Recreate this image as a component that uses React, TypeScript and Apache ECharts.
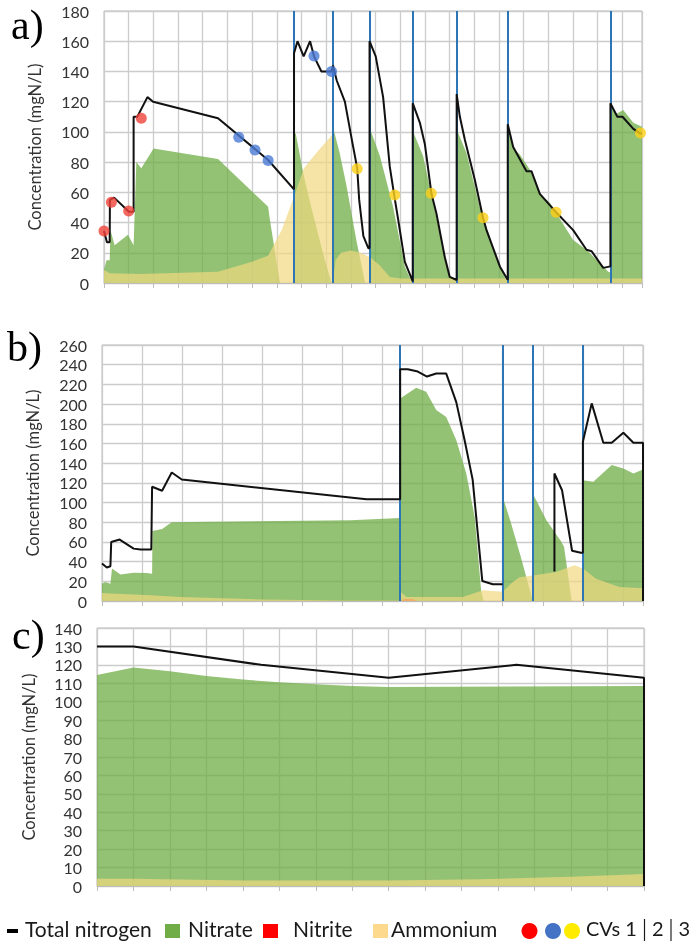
import React, { useEffect, useRef } from "react";
import * as echarts from "echarts";

// ---------- Panel a ----------
const aBlueLines = [77, 92.6, 107.6, 125.1, 142.9, 163.6, 205.2];
const aTotal = [
  [0, 34.4], [1.2, 27], [2.3, 27], [2.4, 55], [4.1, 56.5], [10.1, 47.2], [12, 47.2], [12, 110], [13.5, 110],
  [17.6, 123], [19.9, 120], [46.2, 109], [66.5, 81.4], [77, 62],
  [77, 152], [78.4, 160], [80.9, 150], [83.5, 160], [85.1, 150], [88.1, 140], [92.2, 140], [92.8, 144],
  [94.3, 134], [97.6, 120], [100.4, 95], [102.6, 76], [103.4, 55], [105.1, 31], [107.1, 23], [107.6, 23],
  [107.6, 160], [110.1, 150], [113.1, 123], [115.8, 77], [117.6, 58], [119.2, 42], [121.9, 14], [125.1, 1],
  [125.1, 119], [128, 106], [130, 92], [132.7, 59], [134.7, 46], [138.1, 17], [140.1, 4], [142.9, 2],
  [142.9, 125], [144.2, 110], [146.2, 95], [150.3, 68], [153.6, 43], [155, 35], [160.4, 11], [163.6, 2],
  [163.6, 105], [165.8, 90], [171.2, 74], [173.2, 74], [176.6, 59], [182, 49], [183.1, 47], [190.1, 35],
  [195.5, 22], [197.6, 21], [202.3, 10], [205.2, 11],
  [205.2, 119], [208, 110], [210.1, 110], [214.5, 102], [217.2, 99], [218, 99],
];
const aNitrate = [
  [0, 8.6], [1, 15], [2.3, 15], [2.6, 35], [4.3, 25], [9.7, 32], [12, 25], [13.1, 80], [15.1, 76], [20.1, 89],
  [46.2, 82], [66.5, 50.5], [67.2, 42], [71.3, 0], [77, 0],
  [77, 99], [77.7, 99], [80.7, 73], [84, 50], [89.5, 15], [92.2, 0], [92.6, 0],
  [92.8, 103], [95.5, 86], [98.3, 64], [102.3, 28], [105.8, 0], [107.6, 0],
  [107.8, 102], [111.8, 84], [117.2, 50], [121.9, 11], [124.6, 1], [125.1, 0],
  [125.3, 100], [129.3, 84], [136.1, 33], [140.1, 4], [142.6, 2], [142.9, 0],
  [143.1, 101], [146.9, 86], [152.3, 50], [159.1, 17], [163.1, 1], [163.6, 0],
  [163.8, 103], [165.8, 89], [168.5, 85], [172.6, 75], [176.6, 59], [180.7, 53], [190.1, 28.5], [195.5, 22],
  [202.3, 11], [204.3, 7.5], [205.2, 7],
  [205.3, 118], [207.7, 112], [210.4, 114.5], [214.5, 106], [217.8, 103.5], [218, 103],
];
const aAmmonium = [
  [0, 8.6], [2.3, 6.4], [14.5, 6], [46.2, 7.5], [60, 14], [66.5, 18], [72, 35], [77, 57], [81, 76], [86, 86],
  [92.4, 98], [92.8, 1], [93.8, 15], [96, 20], [100, 21.5], [104, 20], [107.8, 17], [111.5, 12], [115.8, 4],
  [120, 3], [218, 3],
];
const aCV1 = [[0, 34.4], [3, 53.5], [10, 47.6], [15.1, 109]];
const aCV2 = [[54.6, 96.4], [61.2, 88], [66.5, 81], [85.1, 150.2], [92.2, 139.9]];
const aCV3 = [[102.6, 75.6], [117.8, 58.2], [132.6, 59.4], [153.6, 43.2], [183.2, 46.8], [217.4, 99.2]];

// ---------- Panel b ----------
const bBlueLines = [74.4, 100, 107.6, 120];
const bTotal1 = [
  [0, 38], [1.2, 34], [2.1, 35.3], [2.3, 60], [4.4, 62.4], [7.9, 53.2], [9.6, 52.2], [12.3, 52.2], [12.5, 116],
  [15, 112], [17.4, 130.5], [19.9, 123.4], [66, 103.4], [74.4, 103.4],
  [74.4, 235.3], [76.3, 235.3], [78.8, 233], [81.1, 228], [83.4, 231], [85.9, 231], [88.4, 202], [90.5, 163],
  [92.5, 123], [94.9, 20.3], [97.5, 17], [100, 17],
];
const bTotal2 = [
  [112.9, 30], [112.9, 129.5], [114.8, 112.5], [117.3, 51], [119.5, 49], [120, 49],
  [120, 161.7], [122.2, 200.7], [125.1, 160.7], [127.2, 160.7], [130.1, 170.8], [132.6, 160.7], [135, 160.7], [135, 0],
];
const bNitrate = [
  [0, 17.6], [0.8, 19.3], [2.1, 17.6], [2.5, 33], [4.6, 27], [7.9, 28.8], [11.2, 28.5], [12.5, 27.8], [12.6, 71],
  [15, 73], [17.4, 80], [61.9, 82], [74.4, 84.4],
  [74.5, 205.8], [78.4, 216.6], [80.9, 212.5], [83.4, 194], [85.9, 187], [88.4, 163.4], [90.9, 129.5], [93, 85.4],
  [94.6, 11], [95.2, 0], [100, 0],
  [100, 106], [102, 80], [104.5, 45], [107.5, 0],
  [107.7, 107.5], [110.9, 82], [114.5, 61], [115.3, 55], [117.2, 0], [120, 0],
  [120, 122.7], [122.6, 121], [127.2, 138], [130.1, 134.6], [132.6, 129.5], [135, 133.6],
];
const bNitrite = [[74.6, 0], [75.3, 2], [77.6, 2], [78.6, 0]];
const bAmmonium = [
  [0, 8.1], [2.1, 7.5], [12, 5.8], [19.5, 4], [40, 1.5], [60, 0.5], [74.3, 0.5], [74.6, 9], [76, 4], [82.6, 4],
  [90, 4], [95.1, 10.8], [100, 9.5], [102.5, 19.3], [104.2, 24], [107.5, 26], [113.3, 29.4], [117.9, 36.2],
  [120, 33], [123.3, 22.7], [129.1, 14.2], [135, 12.9],
];

// ---------- Panel c ----------
const cTotal = [[0, 130], [10, 130], [45, 120], [80, 113], [115, 120], [150, 113], [150, 0]];
const cNitrate = [
  [0, 114.5], [10, 118.5], [20, 116.5], [30, 114], [40, 112], [50, 110.5], [60, 109.5], [70, 108.5], [80, 108],
  [150, 108.5],
];
const cAmmonium = [[0, 4], [10, 4], [40, 3], [80, 3], [105, 3.6], [130, 5], [150, 6.5]];

// ---------- Axes ----------
const xMax = [218, 135, 150];
const yMax = [180, 260, 140];
const yStep = [20, 20, 10];
const yName = "Concentration (mgN/L)";

const FONT = "Lato, 'Open Sans', sans-serif";
const GRID_COLOR = "#cccccc";
const BORDER_COLOR = "#bdbdbd";
const TEXT_COLOR = "#333333";

const GREEN = "#70ad47";
const YELLOW = "#f1d880";
const BLUE_LINE = "#2e75b6";

function areaSeries(name: string, data: number[][], idx: number, color: string, opacity: number, z: number) {
  return {
    name,
    type: "line",
    xAxisIndex: idx,
    yAxisIndex: idx,
    data,
    symbol: "none",
    lineStyle: { width: 0, opacity: 0 },
    areaStyle: { color, opacity },
    z,
    silent: true,
  };
}

function totalSeries(data: number[][], idx: number) {
  return {
    name: "Total nitrogen",
    type: "line",
    xAxisIndex: idx,
    yAxisIndex: idx,
    data,
    symbol: "none",
    lineStyle: { color: "#111", width: 2 },
    z: 5,
  };
}

function blueLines(xs: number[], idx: number) {
  return {
    name: "phase",
    type: "line",
    xAxisIndex: idx,
    yAxisIndex: idx,
    data: [],
    z: 7,
    markLine: {
      silent: true,
      symbol: ["none", "none"],
      label: { show: false },
      lineStyle: { color: BLUE_LINE, width: 2, type: "solid" },
      data: xs.map((x) => ({ xAxis: x })),
    },
  };
}

function dots(name: string, data: number[][], idx: number, color: string) {
  return {
    name,
    type: "scatter",
    xAxisIndex: idx,
    yAxisIndex: idx,
    data,
    symbolSize: 11,
    itemStyle: { color },
    z: 8,
  };
}

export default function App() {
  const ref = useRef<HTMLDivElement>(null);
  useEffect(() => {
    const chart = echarts.init(ref.current!, null, { renderer: "svg" });
    const grids = [
      { left: 104, top: 11, width: 538, height: 272 },
      { left: 102, top: 345, width: 541, height: 256 },
      { left: 97, top: 628, width: 547, height: 258 },
    ].map((g) => ({ ...g, show: true, borderColor: BORDER_COLOR, borderWidth: 1, backgroundColor: "transparent" }));

    const xAxes = xMax.map((m, i) => ({
      type: "value",
      gridIndex: i,
      min: 0,
      max: m,
      interval: 10,
      axisLabel: { show: false },
      axisLine: { show: true, lineStyle: { color: BORDER_COLOR, width: 1 } },
      axisTick: { show: true, inside: false, length: 5, lineStyle: { color: BORDER_COLOR } },
      splitLine: { show: true, lineStyle: { color: GRID_COLOR, width: 1.3 } },
    }));
    const yAxes = yMax.map((m, i) => ({
      type: "value",
      gridIndex: i,
      min: 0,
      max: m,
      interval: yStep[i],
      name: yName,
      nameLocation: "middle",
      nameGap: i === 2 ? 60 : 61,
      nameTextStyle: { fontFamily: FONT, fontSize: 16.5, color: TEXT_COLOR },
      axisLabel: { fontFamily: FONT, fontSize: 16, color: TEXT_COLOR, margin: 15 },
      axisLine: { show: false },
      axisTick: { show: false },
      splitLine: { show: true, lineStyle: { color: GRID_COLOR, width: 1.3 } },
    }));

    const series: any[] = [
      areaSeries("Nitrate", aNitrate, 0, GREEN, 0.75, 2),
      areaSeries("Ammonium", aAmmonium, 0, YELLOW, 0.7, 3),
      totalSeries(aTotal, 0),
      blueLines(aBlueLines, 0),
      dots("CV 1", aCV1, 0, "#f0433a"),
      dots("CV 2", aCV2, 0, "#4a7bd6"),
      dots("CV 3", aCV3, 0, "#fdd017"),

      areaSeries("Nitrate", bNitrate, 1, GREEN, 0.75, 2),
      areaSeries("Nitrite", bNitrite, 1, "#ff2a1a", 0.85, 3),
      areaSeries("Ammonium", bAmmonium, 1, YELLOW, 0.7, 3),
      totalSeries(bTotal1, 1),
      totalSeries(bTotal2, 1),
      blueLines(bBlueLines, 1),

      areaSeries("Nitrate", cNitrate, 2, GREEN, 0.75, 2),
      areaSeries("Ammonium", cAmmonium, 2, YELLOW, 0.7, 3),
      totalSeries(cTotal, 2),
    ];

    const legendY = 931;
    const legendText = (x: number, text: string, size = 21) => ({
      type: "text",
      left: x,
      top: legendY - 13,
      style: { text, fontFamily: FONT, fontSize: size, fill: "#1a1a1a" },
    });
    const square = (x: number, color: string) => ({
      type: "rect",
      shape: { x, y: legendY - 7, width: 15, height: 14 },
      style: { fill: color },
    });
    const circle = (cx: number, color: string) => ({
      type: "circle",
      shape: { cx, cy: legendY, r: 8 },
      style: { fill: color },
    });
    const panelLabel = (x: number, y: number, text: string) => ({
      type: "text",
      left: x,
      top: y,
      style: { text, fontFamily: "'Liberation Serif', 'Times New Roman', serif", fontSize: 42, fill: "#000" },
    });

    chart.setOption({
      animation: false,
      grid: grids,
      xAxis: xAxes,
      yAxis: yAxes,
      series,
      graphic: [
        panelLabel(11, 4, "a)"),
        panelLabel(7, 326, "b)"),
        panelLabel(12, 614, "c)"),
        { type: "rect", shape: { x: 7, y: legendY - 2, width: 11, height: 4 }, style: { fill: "#000" } },
        legendText(25, "Total nitrogen"),
        square(165, GREEN),
        legendText(188, "Nitrate"),
        square(263, "#ff0000"),
        legendText(293, "Nitrite"),
        square(373, "#fdd98e"),
        legendText(391, "Ammonium"),
        circle(529.5, "#ff0000"),
        circle(553, "#4472c4"),
        circle(572, "#ffeb00"),
        legendText(586, "CVs 1\u25022\u25023", 20),
      ],
    });
    return () => chart.dispose();
  }, []);
  return <div ref={ref} style={{ position: "fixed", left: 0, top: 0, width: 698, height: 946 }} />;
}
